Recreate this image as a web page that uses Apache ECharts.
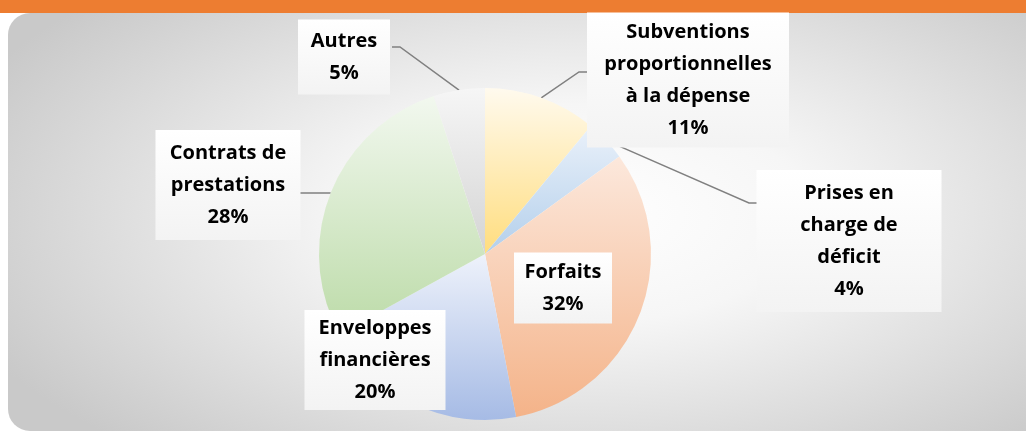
<!DOCTYPE html>
<html>
<head>
<meta charset="utf-8">
<script src="https://cdn.jsdelivr.net/npm/echarts@6/dist/echarts.min.js"></script>
<style>
  html, body { margin: 0; padding: 0; background: #fff; }
  .topbar { position: absolute; left: 0; top: 0; width: 1026px; height: 13px; background: #ed7d31; }
  .panel {
    position: absolute; left: 8px; top: 13px; width: 1018px; height: 418px;
    border-radius: 22px 0 0 22px;
    background: radial-gradient(ellipse 65% 75% at 56% 48%, #ffffff 0%, #f6f6f6 35%, #c9c9c9 100%);
  }
  #chart { position: absolute; left: 0; top: 0; width: 1026px; height: 432px; }
</style>
</head>
<body>
<div class="topbar"></div>
<div class="panel"></div>
<div id="chart"></div>
<script>
// Slices, clockwise from 12 o'clock
const categories = [
  'Subventions\nproportionnelles\nà la dépense',
  'Prises en\ncharge de\ndéficit',
  'Forfaits',
  'Enveloppes\nfinancières',
  'Contrats de\nprestations',
  'Autres',
]
const shares = [11, 4, 32, 20, 28, 5]

// gradient top / bottom colours per slice
const sliceColors = [
  ['#fffaee', '#ffdd7e'],
  ['#eaf1fa', '#b3cfeb'],
  ['#fce8dc', '#f4b389'],
  ['#eef2fb', '#a6bbe5'],
  ['#f2f8ef', '#bcdba8'],
  ['#f6f6f6', '#d4d4d4'],
]

// label box centres (px), box sizes, and where the leader line meets the box
const labelPos = [[688, 80], [849, 241], [563, 288], [375, 360], [228, 185], [344, 57]]
const labelBox = [[202, 135], [185, 142], [98, 71], [141, 100], [145, 110], [92, 75]]
const lineEnd = [[587, 72], [757, 203], null, null, [300, 193], [392, 47]]

const LINE_H = 32

const chart = echarts.init(document.getElementById('chart'))

const data = shares.map((v, i) => {
  const nLines = categories[i].split('\n').length + 1
  const padV = Math.max(0, (labelBox[i][1] - nLines * LINE_H) / 2)
  return {
    name: categories[i],
    value: v,
    itemStyle: {
      color: new echarts.graphic.LinearGradient(0, 0, 0, 1, [
        { offset: 0, color: sliceColors[i][0] },
        { offset: 1, color: sliceColors[i][1] },
      ]),
    },
    label: {
      width: labelBox[i][0] - 8,
      padding: [padV, 4, padV, 4],
    },
    labelLine: { show: lineEnd[i] != null },
  }
})

chart.setOption({
  backgroundColor: 'transparent',
  series: [
    {
      type: 'pie',
      center: [485, 254],
      radius: 166,
      startAngle: 90,
      clockwise: true,
      avoidLabelOverlap: false,
      data: data,
      itemStyle: { borderWidth: 0 },
      emphasis: { disabled: true },
      label: {
        show: true,
        position: 'outside',
        formatter: (p) => p.name + '\n' + Math.round(p.percent) + '%',
        fontFamily: 'Open Sans',
        fontWeight: 'bold',
        fontSize: 20,
        lineHeight: LINE_H,
        color: '#000',
        align: 'center',
        backgroundColor: {
          type: 'linear', x: 0, y: 0, x2: 0, y2: 1,
          colorStops: [
            { offset: 0, color: '#ffffff' },
            { offset: 1, color: '#f3f3f3' },
          ],
        },
        shadowColor: 'rgba(0,0,0,0.5)',
        shadowBlur: 6,
        shadowOffsetX: 3,
        shadowOffsetY: 3,
      },
      labelLine: {
        show: true,
        length: 20,
        length2: 10,
        lineStyle: { color: '#808080', width: 1.5 },
      },
      labelLayout: (params) => {
        const i = params.dataIndex
        const p = labelPos[i]
        const out = { x: p[0], y: p[1], align: 'center', verticalAlign: 'middle' }
        const end = lineEnd[i]
        if (end && params.labelLinePoints) {
          // start on the slice edge, short horizontal stub into the box
          const start = params.labelLinePoints[0]
          const dir = end[0] > start[0] ? -1 : 1
          out.labelLinePoints = [start, [end[0] + dir * 8, end[1]], end]
        }
        return out
      },
    },
  ],
})
</script>
</body>
</html>
